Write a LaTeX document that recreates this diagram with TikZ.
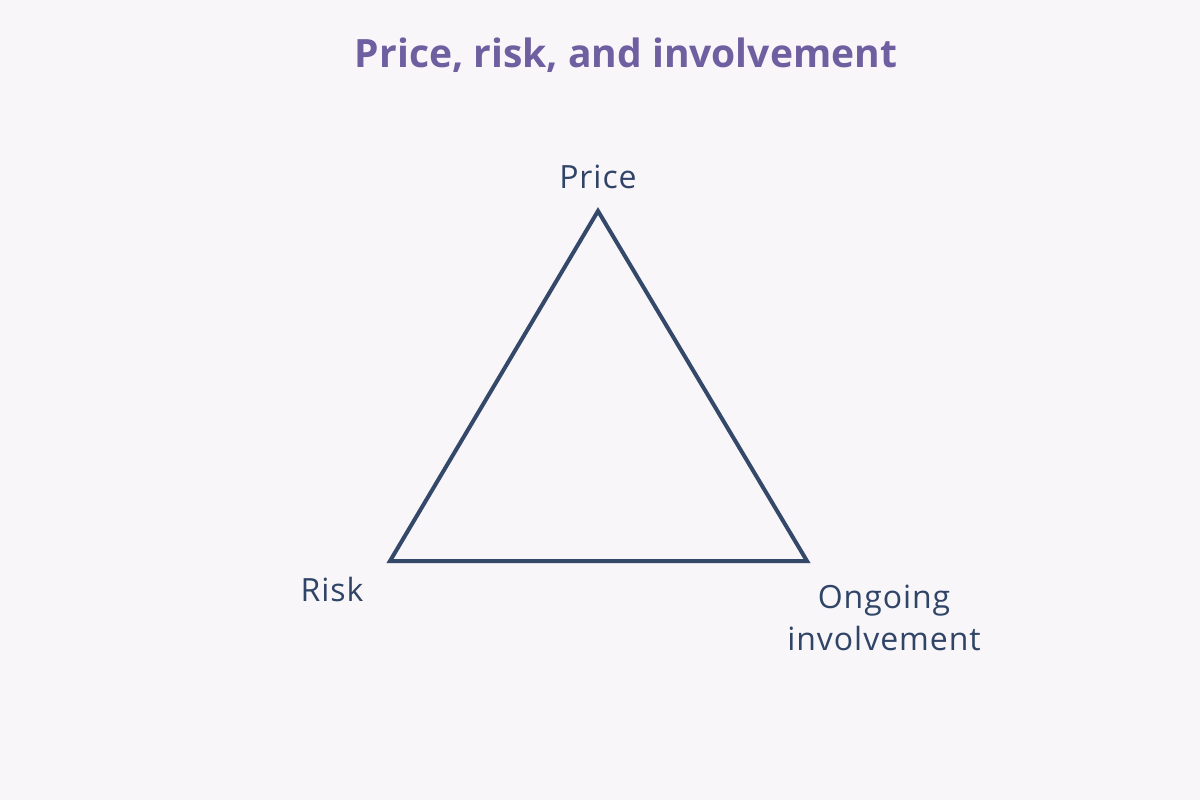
\documentclass[tikz,border=0pt]{standalone}
\usepackage{fontspec}
\setmainfont{Open Sans}
\newfontfamily\lblfont[LetterSpace=3]{Open Sans}
\definecolor{bgc}{HTML}{F8F6F9}
\definecolor{titlec}{HTML}{6E5FA0}
\definecolor{labelc}{HTML}{2F4466}
\definecolor{linec}{HTML}{34486A}
\begin{document}
\begin{tikzpicture}[x=1pt,y=-1pt,
  lbl/.style={text=labelc,font=\lblfont\fontsize{32}{42}\selectfont,align=center,inner sep=0pt},
  edge/.style={draw=linec,line width=4pt,line join=miter}]
\fill[bgc] (0,0) rectangle (1200,800);
\useasboundingbox (0,0) rectangle (1200,800);
\node[text=titlec,font=\fontsize{39}{46}\selectfont\bfseries,inner sep=0pt] (title) at (626,55) {Price, risk, and involvement};
\coordinate (top) at (598,211);
\coordinate (bl) at (390,561);
\coordinate (br) at (807,561);
\draw[edge] (top) -- (bl) -- (br) -- cycle;
\node[lbl] (price) at (598,177) {Price};
\node[lbl] (risk) at (332,589) {Risk};
\node[lbl] (ongoing) at (884,618) {Ongoing\\involvement};
\end{tikzpicture}
\end{document}
